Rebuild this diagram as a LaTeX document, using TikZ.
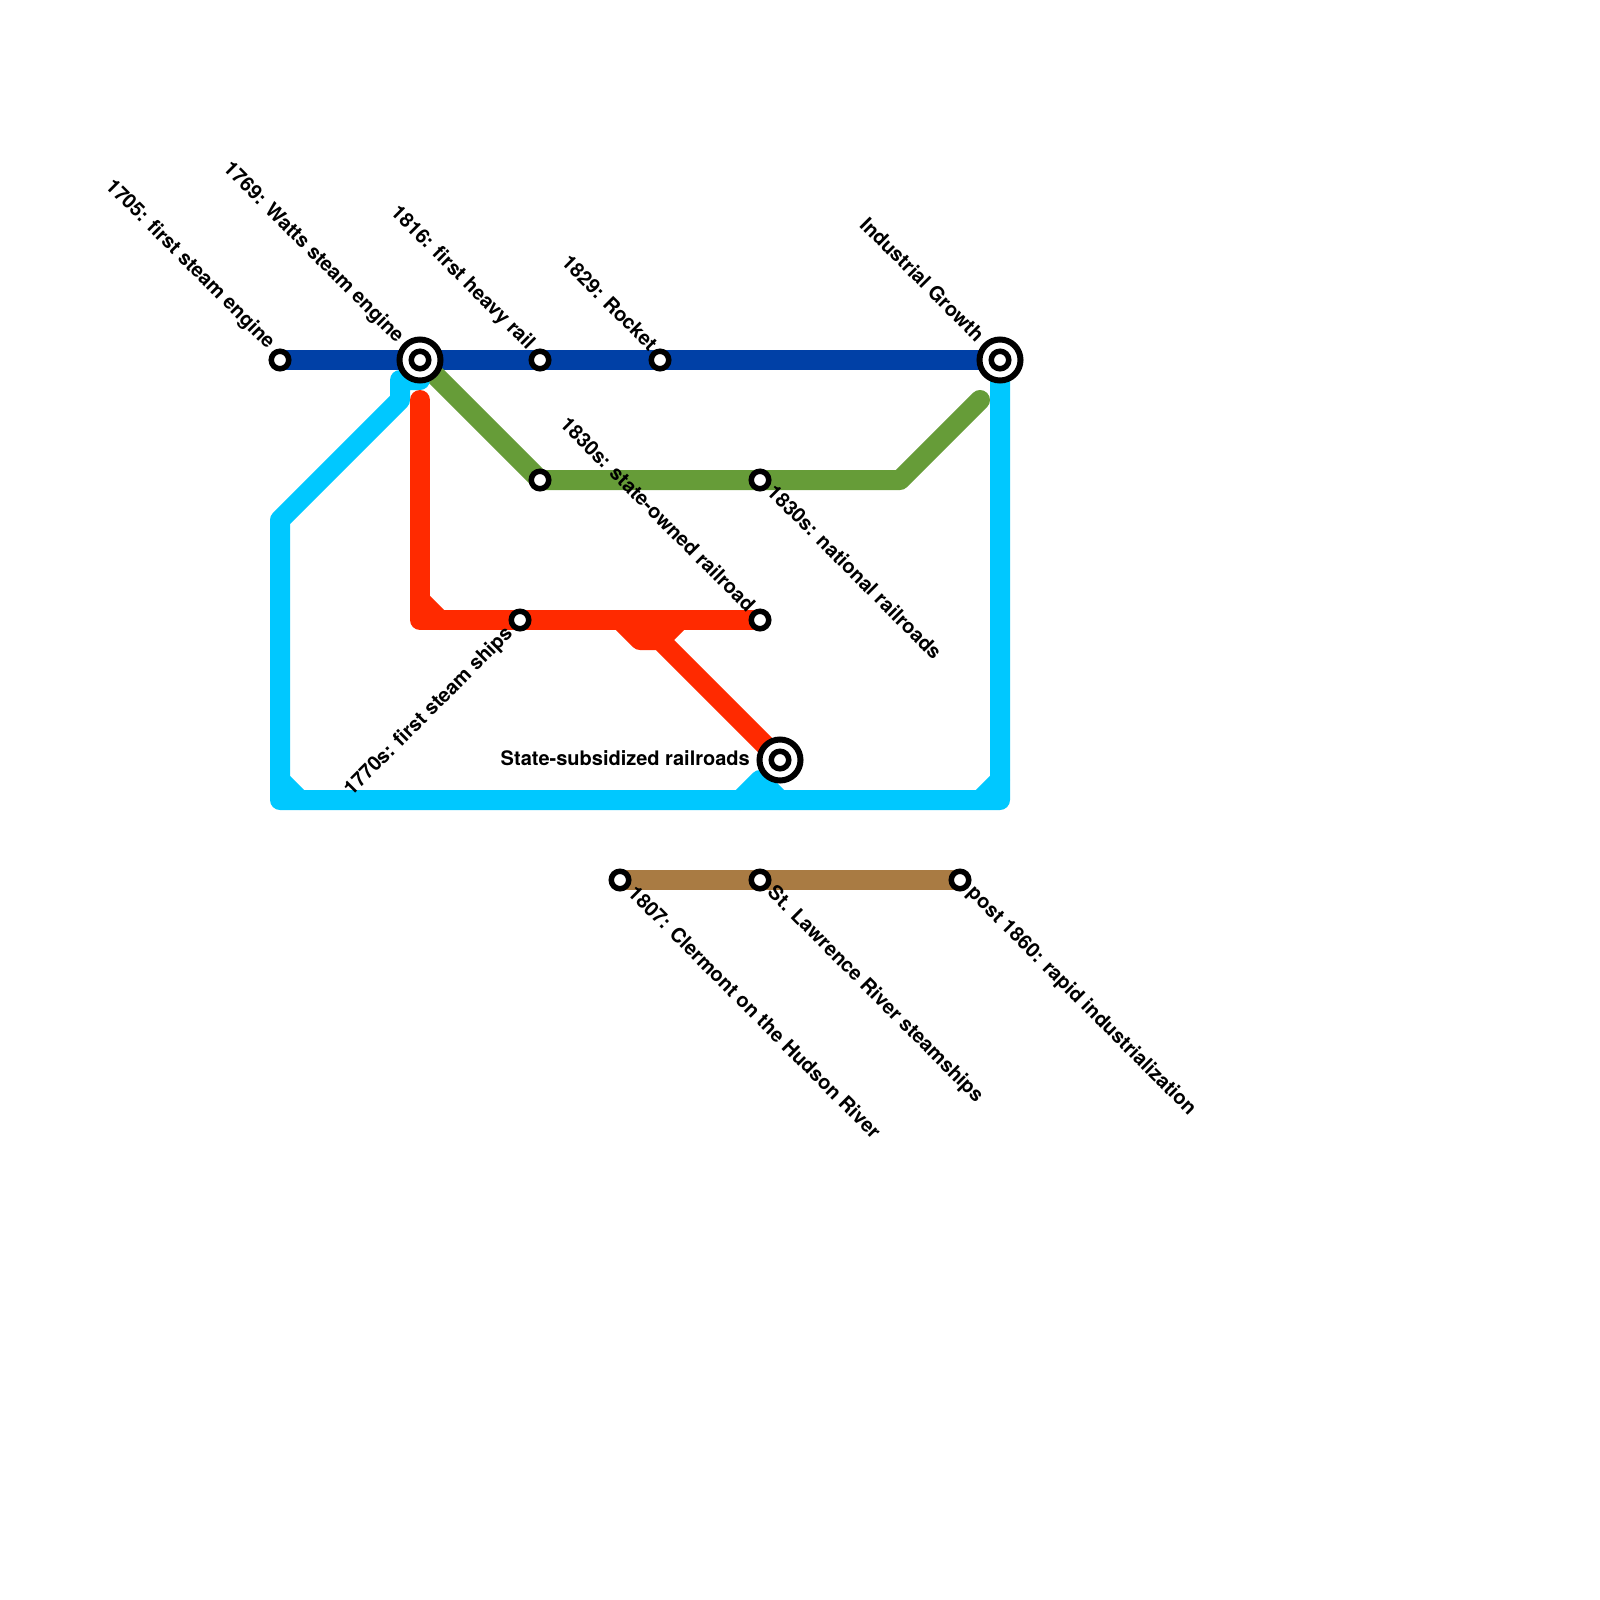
\documentclass[tikz,border=0pt]{standalone}
\usepackage{fontspec}
\setmainfont{TeX Gyre Heros}
\usetikzlibrary{backgrounds}
\definecolor{lineblue}{HTML}{0040A6}
\definecolor{linecyan}{HTML}{00C8FF}
\definecolor{linegreen}{HTML}{669C38}
\definecolor{linered}{HTML}{FF2A00}
\definecolor{linebrown}{HTML}{A97B43}
\begin{document}
\begin{tikzpicture}[
    x=1pt, y=-1pt,
    stop/.style={circle, draw, fill=white, line width=5.5pt, minimum size=17.5pt, inner sep=0pt},
    hub/.style={circle, draw, fill=white, line width=6pt, minimum size=41pt, inner sep=0pt},
    metro/.style={line width=20pt, line join=round, line cap=round},
    lbl/.style={font=\fontsize{20}{22}\selectfont\bfseries, inner sep=0pt},
    up/.style={lbl, rotate=-45, anchor=east},
    down/.style={lbl, rotate=-45, anchor=west},
    rise/.style={lbl, rotate=45, anchor=east}
]
    \useasboundingbox (0,0) rectangle (1600,1600);

    % Stations using absolute coordinates
    \node[stop] (engine) at (280,360) {};
    \node[hub] (watts) at (420,360) {};
    \node[stop] (wattsin) at (420,360) {};
    \node[stop] (heavy) at (540,360) {};
    \node[stop] (rocket) at (660,360) {};
    \node[hub] (growth) at (1000,360) {};
    \node[stop] (growthin) at (1000,360) {};
    \node[stop] (stateown) at (540,480) {};
    \node[stop] (national) at (760,480) {};
    \node[stop] (ships) at (520,620) {};
    \node[stop] (railroad) at (760,620) {};
    \node[hub] (subsidy) at (780,760) {};
    \node[stop] (subsidyin) at (780,760) {};
    \node[stop] (clermont) at (620,880) {};
    \node[stop] (lawrence) at (760,880) {};
    \node[stop] (post) at (960,880) {};
    \coordinate (cyanstart) at (420,380);
    \coordinate (greenend) at (980,400);
    \coordinate (redstart) at (420,400);

    % Lines
    \begin{scope}[on background layer]
        \draw[metro, lineblue] (engine.center) -- (watts.center) -- (growth.center);
        \draw[metro, linegreen] (watts.center) -- (stateown.center) -- (national.center) -- (900,480) -- (greenend);
        \draw[metro, linecyan] (cyanstart) -- (400,380) -- (400,400) -- (280,520) -- (280,800) -- (1000,800) -- (growth.center);
        \draw[metro, linecyan] (280,780) -- (300,800);
        \draw[metro, linecyan] (740,800) -- (760,780) -- (780,800);
        \draw[metro, linecyan] (980,800) -- (1000,780);
        \draw[metro, linered] (redstart) -- (420,620) -- (ships.center) -- (railroad.center);
        \draw[metro, linered] (420,600) -- (440,620);
        \draw[metro, linered] (620,620) -- (640,640) -- (660,640) -- (subsidy.center);
        \draw[metro, linered] (680,620) -- (660,640);
        \draw[metro, linebrown] (clermont.center) -- (lawrence.center) -- (post.center);
    \end{scope}

    % Labels
    \node[up] (enginelbl) at (271,346) {1705: first steam engine};
    \node[up] (wattslbl) at (400,340) {1769: Watts steam engine};
    \node[up] (heavylbl) at (531,347) {1816: first heavy rail};
    \node[up] (rocketlbl) at (654,347) {1829: Rocket};
    \node[up] (growthlbl) at (981,338) {Industrial Growth};
    \node[up] (stateownlbl) at (752,608) {1830s: state-owned railroad};
    \node[down] (nationallbl) at (771,488) {1830s: national railroads};
    \node[rise] (shipslbl) at (510,631) {1770s: first steam ships};
    \node[lbl, anchor=east] (subsidylbl) at (750,758) {State-subsidized railroads};
    \node[down] (clermontlbl) at (632,889) {1807: Clermont on the Hudson River};
    \node[down] (lawrencelbl) at (770,890) {St. Lawrence River steamships};
    \node[down] (postlbl) at (970,890) {post 1860: rapid industrialization};
\end{tikzpicture}
\end{document}
